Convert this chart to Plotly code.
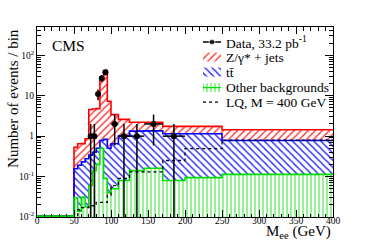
import numpy as np
import plotly.graph_objects as go

# ---------------- data ----------------
edges = [0, 50, 55, 60, 65, 70, 75, 80, 85, 90, 95, 100, 110, 125, 145, 170, 200, 250, 400]
other = [0, 0.03, 0.014, 0.031, 0.018, 0.06, 0.14, 0.2, 0.5, 0.09, 0.04, 0.05, 0.08, 0.14, 0.16, 0.08, 0.094, 0.113]
ttbar = [0, 0.126, 0.176, 0.2, 0.257, 0.28, 0.26, 0.3, 0.28, 0.74, 0.46, 0.6, 0.92, 1.19, 1.19, 1.07, 1.056, 0.667]
zjets = [0, 0.37, 0.46, 0.42, 0.59, 4.2, 4.3, 4.3, 28.2, 41.2, 6.8, 2.75, 1.6, 0.87, 0.85, 0.59, 0.59, 0.66]
lq400 = [0, 0, 0.015, 0.017, 0.017, 0.019, 0.019, 0.023, 0.023, 0.023, 0.035, 0.06, 0.09, 0.13, 0.13, 0.25, 0.49, 0.8]

data_x = [72.5, 77.5, 82.5, 87.5, 92.5, 105, 117.5, 135, 157.5, 185]
data_y = [1, 1, 11, 27, 38, 2, 1, 1, 2, 1]
data_halfwidth = [2.5, 2.5, 2.5, 2.5, 2.5, 5, 7.5, 10, 12.5, 15]

x_ticks = [0, 50, 100, 150, 200, 250, 300, 350, 400]
y_ticks = [0.01, 0.1, 1, 10, 100]
y_ticktext = ["10<sup>-2</sup>", "10<sup>-1</sup>", "1", "10", "10<sup>2</sup>"]

legend_labels = ["Data, 33.2 pb<sup>-1</sup>", "Z/\u03b3* + jets", "tt\u0304", "Other backgrounds", "LQ, M = 400 GeV"]

# ---------------- derived ----------------
e = np.array(edges, float)
centers = 0.5 * (e[:-1] + e[1:])
widths = e[1:] - e[:-1]
o = np.array(other)
t = np.array(ttbar)
z = np.array(zjets)
stack_green = o
stack_blue = o + t
stack_red = o + t + z
FLOOR = 0.0105  # ROOT draws empty bins on the axis minimum

def step(vals):
    v = np.maximum(np.asarray(vals, float), FLOOR)
    return list(e), list(v) + [v[-1]]

FONT = "Liberation Serif, Times New Roman, serif"

RED, BLUE, GREEN = "#ff0000", "#0000ff", "#00e000"
PAT = {
    "z": dict(shape="/", fgcolor="#ff3030", bgcolor="white", size=5, solidity=0.28),
    "t": dict(shape="\\", fgcolor="#2020ff", bgcolor="white", size=5, solidity=0.28),
    "o": dict(shape="|", fgcolor="#50e850", bgcolor="white", size=4, solidity=0.3),
}

fig = go.Figure()

# stacked hatched fills
for key, vals in [("o", o), ("t", t), ("z", z)]:
    fig.add_trace(go.Bar(
        x=centers, y=vals, width=widths,
        marker=dict(color="white", line=dict(width=0), pattern=PAT[key]),
        showlegend=False, hoverinfo="skip"))

# outlines
for vals, col in [(stack_red, RED), (stack_blue, BLUE), (stack_green, GREEN)]:
    sx, sy = step(vals)
    fig.add_trace(go.Scatter(x=sx, y=sy, mode="lines", line=dict(color=col, width=1.6, shape="hv"),
                             showlegend=False, hoverinfo="skip"))

# LQ signal (dashed), starting where it becomes non-zero
lq = np.array(lq400)
first = int(np.argmax(lq > 0))
lx = [e[first]] + list(e[first:])
ly = [FLOOR] + list(lq[first:]) + [lq[-1]]
fig.add_trace(go.Scatter(x=lx, y=ly, mode="lines", line=dict(color="black", width=1.3, dash="dot", shape="hv"),
                         showlegend=False, hoverinfo="skip"))

# data
dy = np.sqrt(np.array(data_y, float))
fig.add_trace(go.Scatter(
    x=data_x, y=data_y, mode="markers", marker=dict(color="black", size=6),
    error_y=dict(type="data", array=dy, color="black", thickness=1.5, width=0),
    error_x=dict(type="data", array=data_halfwidth, color="black", thickness=1.5, width=0),
    showlegend=False, hoverinfo="skip"))

# ---------------- ROOT-style legend on a pixel-unit overlay axis ----------------
kx0, kx1, ktext = 203, 221, 224
row_y = [42, 57, 72, 87.5, 102]
hh = 4.5
fig.add_trace(go.Scatter(x=[kx0, (kx0 + kx1) / 2, kx1], y=[row_y[0]] * 3, mode="lines+markers",
                         line=dict(color="black", width=1.5), marker=dict(color="black", size=[0, 6, 0]),
                         xaxis="x2", yaxis="y2", showlegend=False, hoverinfo="skip"))
for r, key, col in [(1, "z", RED), (2, "t", BLUE), (3, "o", GREEN)]:
    yc = row_y[r]
    fig.add_trace(go.Scatter(x=[kx0, kx1, kx1, kx0, kx0], y=[yc - hh, yc - hh, yc + hh, yc + hh, yc - hh],
                             mode="lines", fill="toself", line=dict(width=0, color=col),
                             fillpattern=PAT[key], fillcolor="white",
                             xaxis="x2", yaxis="y2", showlegend=False, hoverinfo="skip"))
    if key == "o":
        fig.add_trace(go.Scatter(x=[kx0, kx1], y=[yc, yc], mode="lines", line=dict(color=col, width=1.3),
                                 xaxis="x2", yaxis="y2", showlegend=False, hoverinfo="skip"))
fig.add_trace(go.Scatter(x=[kx0, kx1], y=[row_y[4]] * 2, mode="lines",
                         line=dict(color="black", width=1.3, dash="dot"),
                         xaxis="x2", yaxis="y2", showlegend=False, hoverinfo="skip"))

annotations = [
    dict(text=lab, xref="x2", yref="y2", x=ktext, y=yy, xanchor="left", yanchor="middle",
         showarrow=False, font=dict(family=FONT, size=13.5))
    for lab, yy in zip(legend_labels, row_y)
]
annotations += [
    dict(text="CMS", xref="paper", yref="paper", x=0.043, y=0.905, xanchor="left", yanchor="middle",
         showarrow=False, font=dict(family=FONT, size=15.5)),
    dict(text="Number of events / bin", xref="paper", yref="paper", x=-0.083, y=1.0,
         xanchor="center", yanchor="top", textangle=-90, showarrow=False,
         font=dict(family=FONT, size=15)),
    dict(text="M<sub>ee</sub> (GeV)", xref="paper", yref="paper", x=1.0, y=-0.02,
         xanchor="right", yanchor="top", showarrow=False, font=dict(family=FONT, size=15)),
]

minor_y = [k * 10.0 ** d for d in range(-2, 3) for k in range(2, 10)]

fig.update_layout(
    template="none",
    width=374, height=240, autosize=False,
    margin=dict(l=37, r=41, t=27, b=23, pad=0),
    paper_bgcolor="white", plot_bgcolor="white",
    barmode="stack", bargap=0,
    font=dict(family=FONT, color="black", size=9),
    showlegend=False,
    xaxis=dict(range=[0, 400], tickvals=x_ticks, ticks="inside", ticklen=7, tickwidth=1, tickcolor="black",
               showline=True, linecolor="black", linewidth=1, mirror="allticks", automargin=False,
               showgrid=False, zeroline=False, tickfont=dict(size=9.5, family=FONT, color="black"),
               ticklabelstandoff=-5,
               minor=dict(dtick=10, ticks="inside", ticklen=3.5, tickcolor="black", showgrid=False)),
    yaxis=dict(type="log", range=[-2, np.log10(500)], tickvals=y_ticks, ticktext=y_ticktext,
               ticks="inside", ticklen=8, tickwidth=1, tickcolor="black", showline=True, linecolor="black",
               linewidth=1, mirror="allticks", showgrid=False, zeroline=False, automargin=False,
               tickfont=dict(size=9.5, family=FONT, color="black"),
               minor=dict(tickvals=minor_y, ticks="inside", ticklen=4, tickcolor="black", showgrid=False)),
    xaxis2=dict(domain=[0, 1], anchor="y2", overlaying="x", range=[37, 333], visible=False,
                fixedrange=True, automargin=False),
    yaxis2=dict(domain=[0, 1], anchor="x2", overlaying="y", range=[216.7, 27], visible=False,
                fixedrange=True, automargin=False),
    annotations=annotations,
)

fig.write_html("out.html", config={"displayModeBar": False},
               post_script="document.body.style.margin='0';document.body.style.padding='0';")
